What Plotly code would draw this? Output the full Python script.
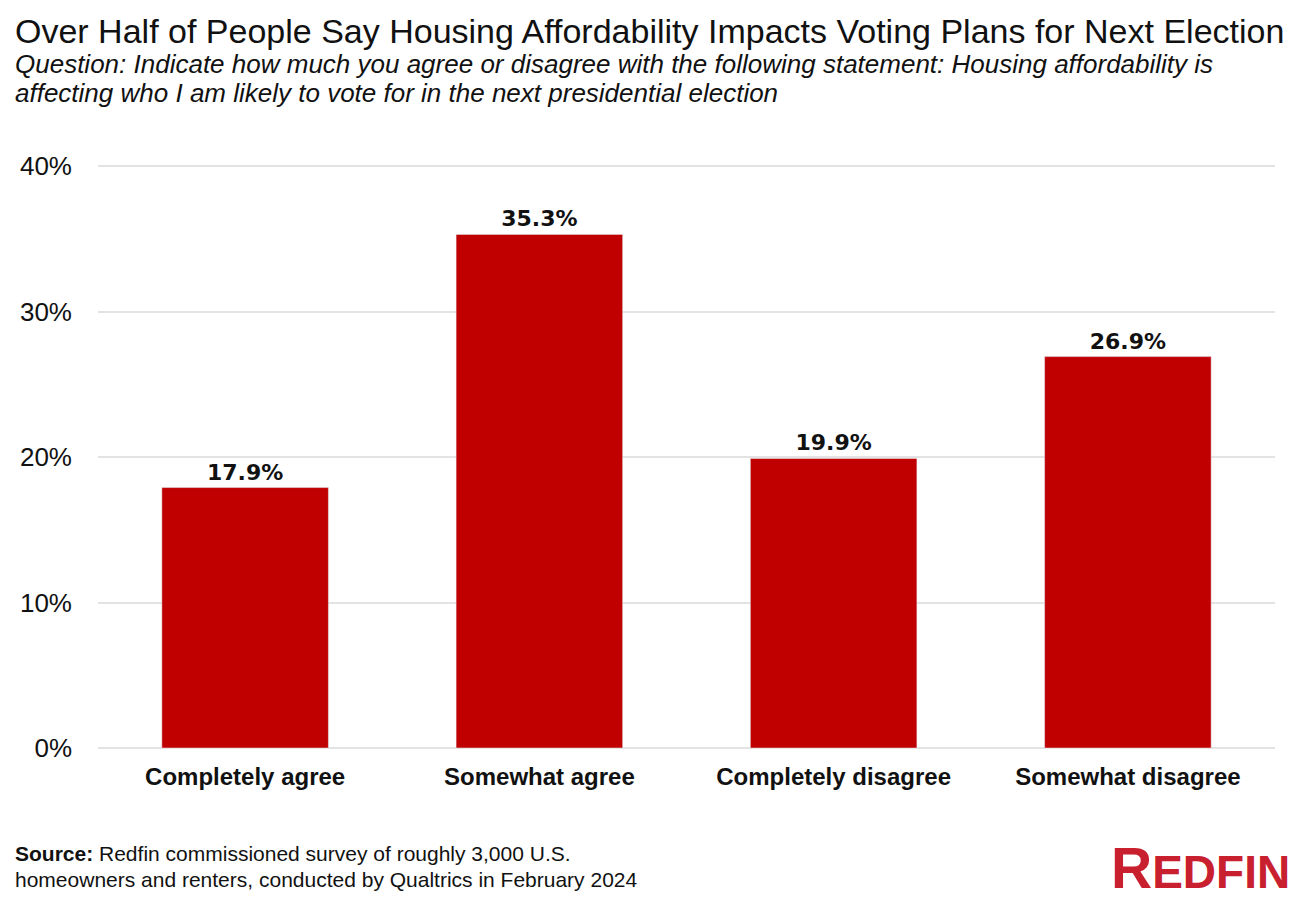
import plotly.graph_objects as go

# 数据
categories = ["Completely agree", "Somewhat agree", "Completely disagree", "Somewhat disagree"]
shares = [17.9, 35.3, 19.9, 26.9]
tick_vals = [0, 10, 20, 30, 40]
tick_text = ["0%", "10%", "20%", "30%", "40%"]

title = "Over Half of People Say Housing Affordability Impacts Voting Plans for Next Election"
subtitle_1 = "<i>Question: Indicate how much you agree or disagree with the following statement: Housing affordability is</i>"
subtitle_2 = "<i>affecting who I am likely to vote for in the next presidential election</i>"
source_1 = "<b>Source:</b> Redfin commissioned survey of roughly 3,000 U.S."
source_2 = "homeowners and renters, conducted by Qualtrics in February 2024"

RED = "#c00000"
FONT = "Liberation Sans"

fig = go.Figure()
fig.add_trace(go.Bar(
    x=categories,
    y=shares,
    marker_color=RED,
    text=[f"<b>{v:.1f}%</b>" for v in shares],
    textposition="outside",
    textfont=dict(family="DejaVu Sans", size=22, color="#111"),
    cliponaxis=False,
))

# 留一点余量, 让0%和40%的网格线也能画出来
fig.update_layout(
    width=1292, height=892,
    paper_bgcolor="white", plot_bgcolor="white",
    margin=dict(l=87, r=25, t=154, b=148),
    bargap=0.434,
    showlegend=False,
    font=dict(family=FONT, color="#111"),
    xaxis=dict(
        tickfont=dict(family=FONT, size=24, color="#111"),
        tickvals=categories,
        ticktext=[f"<b>{c}</b>" for c in categories],
        ticklabelstandoff=8,
        showline=False,
    ),
    yaxis=dict(
        range=[-0.275, 40.275],
        tickvals=tick_vals,
        ticktext=tick_text,
        tickfont=dict(family=FONT, size=26, color="#111"),
        gridcolor="#e3e3e3",
        gridwidth=1.5,
        zeroline=False,
        ticklabelstandoff=25,
    ),
)

# 标题和注释 (以绘图区顶部/底部为基准)
def note(text, y, yshift, size):
    fig.add_annotation(text=text, xref="paper", yref="paper", x=-0.0724, y=y,
                       xanchor="left", yanchor="middle", yshift=yshift, showarrow=False,
                       font=dict(family=FONT, size=size, color="#111"), align="left")

note(title, 1.0, 131, 34)
note(subtitle_1, 1.0, 98, 26)
note(subtitle_2, 1.0, 69, 26)
note(source_1, 0.0, -101, 21)
note(source_2, 0.0, -127, 21)

# 右下角 logo
fig.add_annotation(text="<b>R<span style='font-size:46px'>EDFIN</span></b>", xref="paper", yref="paper",
                   x=1.0144, y=0.0, xanchor="right", yanchor="middle", yshift=-116, showarrow=False,
                   font=dict(family="Liberation Sans Narrow, Liberation Sans", size=57, color="#c8202f"))

fig.write_html("out.html")
